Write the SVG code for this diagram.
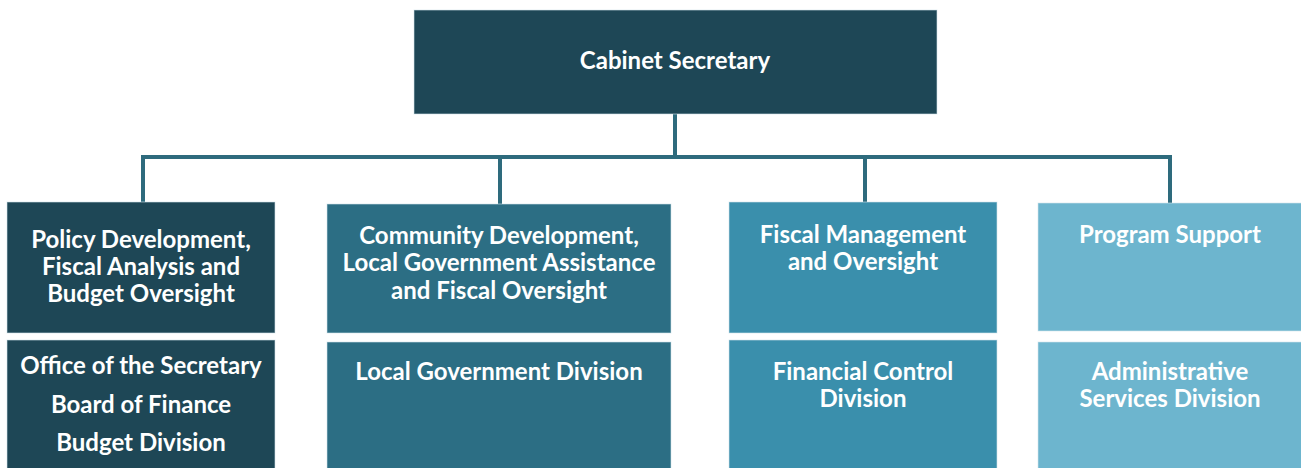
<svg xmlns="http://www.w3.org/2000/svg" width="1301" height="468" viewBox="0 0 1301 468">
<style>
.box{stroke:#d6e6ec;stroke-width:1;stroke-opacity:0.6}
.c0{fill:#1e4756}
.c1{fill:#2c6e84}
.c2{fill:#3a8fac}
.c3{fill:#6db5ce}
text{font-family:Lato,"Open Sans","Liberation Sans",sans-serif;font-weight:bold;font-size:24px;fill:#ffffff;text-anchor:middle}
.conn{stroke:#2e6b7d;stroke-width:4;fill:none}
</style>
<rect width="1301" height="468" fill="#ffffff"/>
<g id="connectors">
<path class="conn" d="M675,114 V157 M141,157 H1172 M143,157 V203 M500,157 V204 M865,157 V203 M1170,157 V204"/>
</g>
<g id="cabinet-secretary">
<rect class="box c0" x="414" y="10" width="523" height="104"/>
<text x="675" y="69">Cabinet Secretary</text>
</g>
<g id="policy-development">
<rect class="box c0" x="7" y="202" width="268" height="131"/>
<text x="141" y="248">Policy Development,</text>
<text x="141" y="275">Fiscal Analysis and</text>
<text x="141" y="302">Budget Oversight</text>
</g>
<g id="policy-units">
<rect class="box c0" x="7" y="340" width="268" height="140"/>
<text x="141" y="374">Office of the Secretary</text>
<text x="141" y="413">Board of Finance</text>
<text x="141" y="451">Budget Division</text>
</g>
<g id="community-development">
<rect class="box c1" x="327" y="204" width="344" height="129"/>
<text x="499" y="244">Community Development,</text>
<text x="499" y="271">Local Government Assistance</text>
<text x="499" y="299">and Fiscal Oversight</text>
</g>
<g id="local-government-division">
<rect class="box c1" x="327" y="342" width="344" height="140"/>
<text x="499" y="380">Local Government Division</text>
</g>
<g id="fiscal-management">
<rect class="box c2" x="729" y="202" width="268" height="131"/>
<text x="863" y="243">Fiscal Management</text>
<text x="863" y="270">and Oversight</text>
</g>
<g id="financial-control-division">
<rect class="box c2" x="729" y="340" width="268" height="140"/>
<text x="863" y="380">Financial Control</text>
<text x="863" y="407">Division</text>
</g>
<g id="program-support">
<rect class="box c3" x="1038" y="203" width="280" height="128"/>
<text x="1170" y="243">Program Support</text>
</g>
<g id="administrative-services-division">
<rect class="box c3" x="1038" y="342" width="280" height="140"/>
<text x="1170" y="380">Administrative</text>
<text x="1170" y="407">Services Division</text>
</g>
</svg>
